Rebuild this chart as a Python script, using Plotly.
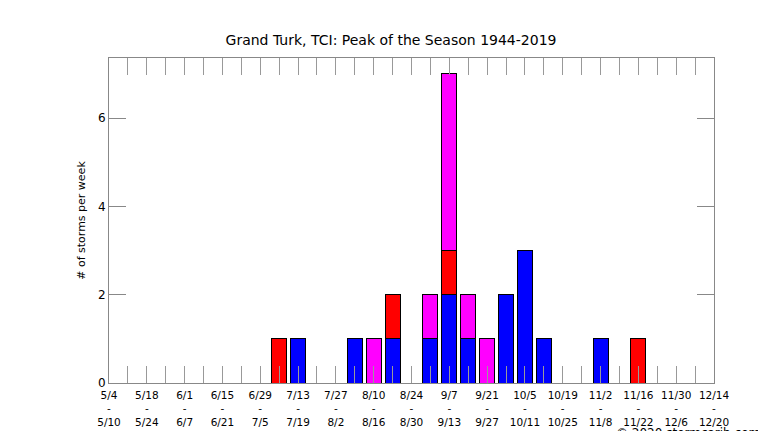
import plotly.graph_objects as go
import datetime as dt

start = dt.date(2019, 5, 4)
weeks = [start + dt.timedelta(days=7 * i) for i in range(33)]
labels = []
for i, w in enumerate(weeks):
    e = w + dt.timedelta(days=6)
    labels.append(f"{w.month}/{w.day}<br>-<br>{e.month}/{e.day}" if i % 2 == 0 else "")

blue =    {10: 1, 13: 1, 15: 1, 17: 1, 18: 2, 19: 1, 21: 2, 22: 3, 23: 1, 26: 1}
red =     {9: 1, 15: 1, 18: 1, 28: 1}
magenta = {14: 1, 17: 1, 18: 4, 19: 1, 20: 1}

fig = go.Figure()
for d, c in [(blue, "#0000ff"), (red, "#ff0000"), (magenta, "#ff00ff")]:
    xs = sorted(d)
    fig.add_trace(go.Bar(x=xs, y=[d[k] for k in xs], marker=dict(color=c, line=dict(color="black", width=1)),
                         width=0.8, showlegend=False))

fig.update_layout(
    barmode="stack", width=766, height=431, plot_bgcolor="white", paper_bgcolor="white",
    margin=dict(l=101, r=60, t=50, b=56, autoexpand=False),
    font=dict(family="DejaVu Sans", size=12, color="black"),
    title=dict(text="Grand Turk, TCI: Peak of the Season 1944-2019", x=0.5, xanchor="center",
               y=0.925, yanchor="middle", font=dict(size=14)),
    xaxis=dict(range=[0, 32], tickmode="array", tickvals=list(range(33)), ticktext=labels, ticks="inside",
               ticklen=17, tickcolor="#999", mirror="allticks", showline=True, linecolor="#888",
               showgrid=False, zeroline=False, layer="above traces", tickangle=0, automargin=False,
               tickfont=dict(size=10.5), ticklabelstandoff=2),
    yaxis=dict(range=[0, 7.36], tickvals=[0, 2, 4, 6], ticks="inside", ticklen=17, tickcolor="#888",
               mirror="allticks", showline=True, linecolor="#888", showgrid=False, zeroline=False,
               automargin=False, title=dict(text="# of storms per week", standoff=10, font=dict(size=11))),
    annotations=[dict(text="© 2020 stormcarib.com", xref="paper", yref="paper", x=1.08, y=-0.154,
                      xanchor="right", yanchor="middle", showarrow=False, font=dict(size=12))],
)
fig.write_html("out.html")
